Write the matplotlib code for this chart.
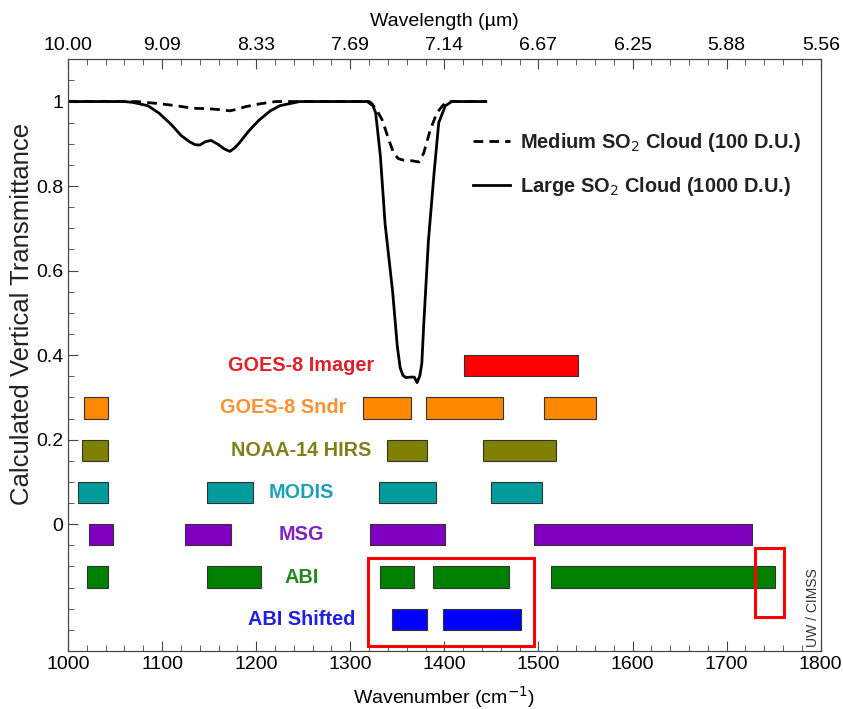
import matplotlib

matplotlib.use("Agg")
import matplotlib.patches as patches
import matplotlib.pyplot as plt
import numpy as np

plt.rcParams["font.family"] = ["Liberation Sans", "DejaVu Sans"]

# transmittance curves (wavenumber, transmittance)
large_wn = [1000, 1060, 1069, 1085, 1097, 1110, 1120, 1129, 1135, 1140, 1146, 1152,
            1160, 1166, 1172, 1177, 1182, 1192, 1203, 1215, 1225, 1246, 1318, 1324,
            1327, 1332, 1337, 1345, 1350, 1353, 1356, 1359, 1364, 1368, 1371, 1374,
            1376, 1378, 1383, 1389, 1394, 1401, 1408, 1444]
large_tr = [1.0, 1.0, 0.998, 0.99, 0.972, 0.945, 0.92, 0.905, 0.898, 0.897, 0.905, 0.908,
            0.898, 0.888, 0.882, 0.89, 0.902, 0.93, 0.956, 0.978, 0.99, 1.0, 1.0, 0.99,
            0.973, 0.87, 0.71, 0.55, 0.42, 0.37, 0.352, 0.347, 0.348, 0.348, 0.335, 0.352,
            0.38, 0.47, 0.67, 0.83, 0.95, 0.99, 1.0, 1.0]
medium_wn = [1000, 1073, 1097, 1115, 1133, 1150, 1165, 1172, 1180, 1189, 1205, 1221,
             1320, 1323, 1328, 1334, 1341, 1346, 1351, 1357, 1365, 1373, 1378, 1385,
             1392, 1398, 1403, 1444]
medium_tr = [1.0, 1.0, 0.995, 0.99, 0.984, 0.983, 0.98, 0.978, 0.982, 0.988, 0.995, 1.0,
             1.0, 0.995, 0.98, 0.956, 0.909, 0.878, 0.865, 0.861, 0.86, 0.857, 0.878,
             0.933, 0.973, 0.99, 1.0, 1.0]

# instrument bands
instruments = ["GOES-8 Imager", "GOES-8 Sndr", "NOAA-14 HIRS", "MODIS", "MSG", "ABI", "ABI Shifted"]
row_y = [0.375, 0.275, 0.175, 0.075, -0.025, -0.125, -0.225]
bands = [
    [(1421, 1542)],
    [(1017, 1043), (1314, 1364), (1380, 1462), (1506, 1561)],
    [(1015, 1043), (1339, 1382), (1441, 1519)],
    [(1011, 1043), (1148, 1197), (1331, 1391), (1450, 1504)],
    [(1022, 1048), (1124, 1173), (1321, 1401), (1495, 1727)],
    [(1020, 1043), (1148, 1205), (1332, 1368), (1388, 1469), (1513, 1751)],
    [(1344, 1381), (1398, 1481)],
]
bar_colors = ["#ff0000", "#ff8800", "#808000", "#009c9c", "#8000c0", "#008000", "#0000ff"]
text_colors = ["#e0202a", "#ff9030", "#80801a", "#20a0b8", "#8020c0", "#208a20", "#2020e0"]
label_x = [1248, 1229, 1248, 1248, 1248, 1248, 1248]

# highlight boxes (x0, x1, y0, y1)
highlights = [(1319, 1495, -0.287, -0.079), (1730, 1761, -0.219, -0.057)]

major_wn = np.arange(1000, 1801, 100)

fig = plt.figure(figsize=(8.43, 7.09), dpi=100)
ax = fig.add_axes([0.0807, 0.0818, 0.8929, 0.8346])

ax.plot(medium_wn, medium_tr, color="black", lw=2.0, ls=(0, (3.5, 2.2)),
        label="Medium SO$_2$ Cloud (100 D.U.)")
ax.plot(large_wn, large_tr, color="black", lw=2.0, label="Large SO$_2$ Cloud (1000 D.U.)")

bar_h = 0.05
for name, y, segs, bc, tc, lx in zip(instruments, row_y, bands, bar_colors, text_colors, label_x):
    for x0, x1 in segs:
        ax.add_patch(patches.Rectangle((x0, y - bar_h / 2), x1 - x0, bar_h,
                                       facecolor=bc, edgecolor="#333333", lw=0.8))
    ax.text(lx, y, name, color=tc, fontsize=14.3, fontweight="bold",
            ha="center", va="center")

for x0, x1, y0, y1 in highlights:
    ax.add_patch(patches.Rectangle((x0, y0), x1 - x0, y1 - y0, fill=False,
                                   edgecolor="#ff0000", lw=2.2, zorder=5))

leg = ax.legend(loc="upper left", bbox_to_anchor=(0.514, 0.91), frameon=False,
                handlelength=1.85, handletextpad=0.5, labelspacing=1.06,
                prop={"size": 14.4, "weight": "bold"})
for t in leg.get_texts():
    t.set_color("#222222")

ax.text(0.99, 0.006, "UW / CIMSS", transform=ax.transAxes, rotation=90,
        ha="center", va="bottom", fontsize=10, color="#333333")

ax.set_xlim(1000, 1800)
ax.set_ylim(-0.3, 1.1)
ax.set_xticks(major_wn)
ax.set_xticks(np.arange(1000, 1801, 20), minor=True)
ax.set_yticks([0, 0.2, 0.4, 0.6, 0.8, 1.0])
ax.set_yticklabels(["0", "0.2", "0.4", "0.6", "0.8", "1"])
ax.set_yticks(np.arange(-0.3, 1.1001, 0.05), minor=True)
ax.tick_params(which="both", direction="in", labelsize=14, color="#444444")
ax.tick_params(which="major", length=7)
ax.tick_params(which="minor", length=4)
ax.set_xlabel("Wavenumber (cm$^{-1}$)", fontsize=14, labelpad=8)
ax.set_ylabel("Calculated Vertical Transmittance", fontsize=18.5, color="#222222")
ax.yaxis.set_label_coords(-0.045, 0.57)
for s in ax.spines.values():
    s.set_color("#444444")

top = ax.twiny()
top.set_xlim(ax.get_xlim())
top.set_xticks(major_wn)
top.set_xticklabels([f"{10000 / w:.2f}" for w in major_wn])
top.set_xticks(np.arange(1000, 1801, 20), minor=True)
top.tick_params(which="both", direction="in", labelsize=14, color="#444444")
top.tick_params(which="major", length=7)
top.tick_params(which="minor", length=4)
top.set_xlabel("Wavelength (\u00b5m)", fontsize=14, labelpad=8)
for s in top.spines.values():
    s.set_color("#444444")

plt.savefig("out.png", dpi=100)
